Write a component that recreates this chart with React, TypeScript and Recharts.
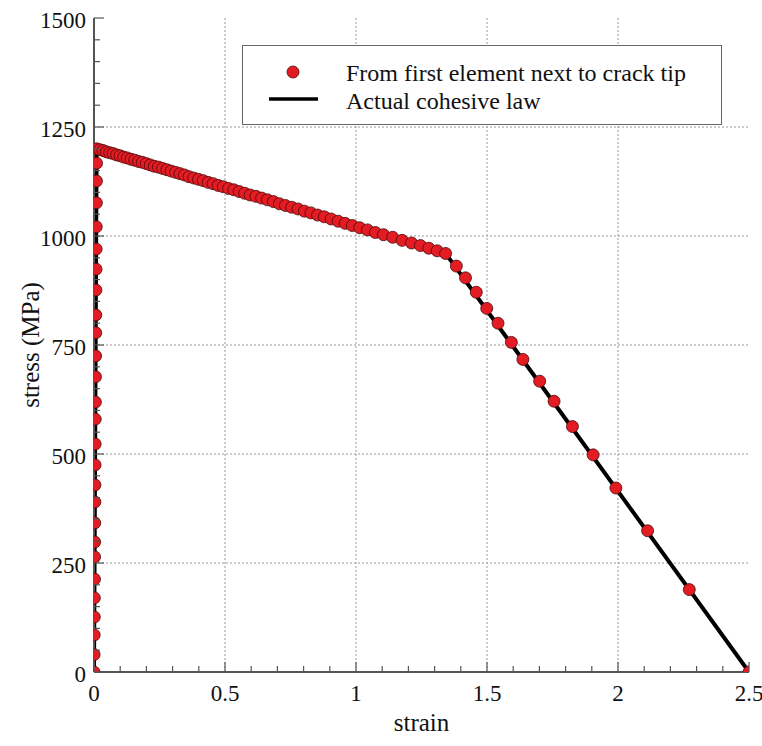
import { ComposedChart, Line, Scatter, XAxis, YAxis, ReferenceLine, Legend, Label } from 'recharts';

// cohesive law (black line)
const lawStrain = [0, 0.01, 1.342, 2.5];
const lawStress = [0, 1200, 960, 0];

// element next to crack tip: loading branch
const loadStrain = [0, 0.0003, 0.0007, 0.0011, 0.0014, 0.0018, 0.0022, 0.0025, 0.0029, 0.0033, 0.0036, 0.004, 0.0044, 0.0048, 0.0052, 0.0056, 0.006, 0.0065, 0.0068, 0.0073, 0.0077, 0.0081, 0.0085, 0.009, 0.0094, 0.0097];
const loadStress = [0, 40, 85, 126, 170, 213, 264, 298, 342, 390, 429, 475, 523, 580, 619, 677, 725, 778, 819, 876, 924, 970, 1021, 1076, 1126, 1167];

// softening branch
const softStrain = [
  0.01, 0.0222, 0.0346, 0.0472, 0.06, 0.073, 0.0862, 0.0996, 0.1132, 0.127,
  0.141, 0.1553, 0.1698, 0.1845, 0.1995, 0.2147, 0.2301, 0.2458, 0.2617, 0.2779,
  0.2944, 0.3111, 0.3281, 0.3453, 0.3628, 0.3806, 0.3987, 0.4171, 0.4358, 0.4548,
  0.4741, 0.4937, 0.5136, 0.5338, 0.5543, 0.5752, 0.5964, 0.6179, 0.6398, 0.662,
  0.6846, 0.7076, 0.7309, 0.7546, 0.7787, 0.8032, 0.8281, 0.8534, 0.8791, 0.9052,
  0.9317, 0.9586, 0.9859, 1.014, 1.044, 1.074, 1.105, 1.14, 1.176, 1.212,
  1.246, 1.278, 1.31, 1.342,
];
const softStress = [
  1200, 1198, 1196, 1193, 1191, 1189, 1186, 1184, 1181, 1179,
  1176, 1174, 1171, 1169, 1166, 1163, 1160, 1158, 1155, 1152,
  1149, 1146, 1143, 1140, 1136, 1133, 1130, 1127, 1123, 1120,
  1116, 1113, 1109, 1106, 1102, 1098, 1094, 1091, 1087, 1083,
  1079, 1074, 1070, 1066, 1062, 1057, 1053, 1048, 1044, 1039,
  1034, 1029, 1024, 1019, 1014, 1008, 1003, 997, 990, 984,
  978, 972, 966, 960,
];

// final drop to zero
const dropStrain = [1.383, 1.418, 1.459, 1.499, 1.542, 1.593, 1.637, 1.701, 1.756, 1.826, 1.905, 1.992, 2.113, 2.272, 2.5];
const dropStress = [931, 904, 871, 834, 800, 756, 717, 667, 621, 563, 498, 422, 324, 189, 0];

const xTicks = [0, 0.1, 0.2, 0.3, 0.4, 0.5, 0.6, 0.7, 0.8, 0.9, 1, 1.1, 1.2, 1.3, 1.4, 1.5, 1.6, 1.7, 1.8, 1.9, 2, 2.1, 2.2, 2.3, 2.4, 2.5];
const yTicks = [0, 50, 100, 150, 200, 250, 300, 350, 400, 450, 500, 550, 600, 650, 700, 750, 800, 850, 900, 950, 1000, 1050, 1100, 1150, 1200, 1250, 1300, 1350, 1400, 1450, 1500];
const xGrid = [0.5, 1, 1.5, 2];
const yGrid = [250, 500, 750, 1000, 1250];

const lawData = lawStrain.map((s, i) => ({ strain: s, stress: lawStress[i] }));
const pointData = [
  ...loadStrain.map((s, i) => ({ strain: s, stress: loadStress[i] })),
  ...softStrain.map((s, i) => ({ strain: s, stress: softStress[i] })),
  ...dropStrain.map((s, i) => ({ strain: s, stress: dropStress[i] })),
];

// keep the page from overflowing the 762x746 window
if (typeof document !== 'undefined') document.body.style.margin = '0';

const TXT = { fontFamily: 'Liberation Serif, Tinos, DejaVu Serif, serif', fill: '#111' };
const AXIS = '#555';
const RED = '#e31b23';

const isMajorX = (v: number) => Math.abs(v * 2 - Math.round(v * 2)) < 1e-6;
const isMajorY = (v: number) => v % 250 === 0;

const BottomTick = (props: any) => {
  const { x, y, payload } = props;
  const major = isMajorX(payload.value);
  return (
    <g>
      <line x1={x} x2={x} y1={y} y2={y - (major ? 10 : 6)} stroke={AXIS} strokeWidth={1.2} />
      {major && (
        <text x={x} y={y + 21} textAnchor="middle" dominantBaseline="central" fontSize={23} style={TXT}>
          {String(payload.value)}
        </text>
      )}
    </g>
  );
};

const TopTick = (props: any) => {
  const { x, y, payload } = props;
  const major = isMajorX(payload.value);
  return <line x1={x} x2={x} y1={y} y2={y + (major ? 10 : 6)} stroke={AXIS} strokeWidth={1.2} />;
};

const LeftTick = (props: any) => {
  const { x, y, payload } = props;
  const major = isMajorY(payload.value);
  return (
    <g>
      <line x1={x} x2={x + (major ? 10 : 6)} y1={y} y2={y} stroke={AXIS} strokeWidth={1.2} />
      {major && (
        <text x={x - 8} y={y + 2} textAnchor="end" dominantBaseline="central" fontSize={23} style={TXT}>
          {String(payload.value)}
        </text>
      )}
    </g>
  );
};

const RightTick = (props: any) => {
  const { x, y, payload } = props;
  const major = isMajorY(payload.value);
  return <line x1={x} x2={x - (major ? 10 : 6)} y1={y} y2={y} stroke={AXIS} strokeWidth={1.2} />;
};

const Dot = (props: any) => (
  <circle cx={props.cx} cy={props.cy} r={6} fill={RED} stroke="#4a0a0a" strokeWidth={0.8} />
);

const LegendBox = () => (
  <div style={{ width: 480, height: 80, boxSizing: 'border-box', border: '1.5px solid #666', background: '#fff' }}>
    <svg width={477} height={77} style={{ display: 'block' }}>
      <circle cx={50} cy={26} r={6} fill={RED} stroke="#4a0a0a" strokeWidth={0.8} />
      <line x1={26} x2={75} y1={53} y2={53} stroke="#000" strokeWidth={3.5} />
      <text x={103} y={27} dominantBaseline="central" fontSize={24} style={TXT}>
        From first element next to crack tip
      </text>
      <text x={103} y={55} dominantBaseline="central" fontSize={24} style={TXT}>
        Actual cohesive law
      </text>
    </svg>
  </div>
);

export default function App() {
  return (
    <div style={{ padding: '8px 0 0 8px', width: 754, height: 738, background: '#fff' }}>
      <ComposedChart width={754} height={738} margin={{ top: 10, right: 13, bottom: 0, left: 0 }}>
        {xGrid.map((v) => (
          <ReferenceLine key={`gx-${v}`} x={v} stroke="#9a9a9a" strokeDasharray="2 2" strokeWidth={1} />
        ))}
        {yGrid.map((v) => (
          <ReferenceLine key={`gy-${v}`} y={v} stroke="#9a9a9a" strokeDasharray="2 2" strokeWidth={1} />
        ))}
        <XAxis
          dataKey="strain"
          type="number"
          domain={[0, 2.5]}
          ticks={xTicks}
          interval={0}
          height={74}
          tickSize={0}
          tickMargin={0}
          tickLine={false}
          tick={<BottomTick />}
          axisLine={{ stroke: AXIS, strokeWidth: 2 }}
          allowDataOverflow
        >
          <Label
            content={(p: any) => {
              const vb = p.viewBox;
              return (
                <text x={vb.x + vb.width / 2} y={vb.y + 50} textAnchor="middle" dominantBaseline="central" fontSize={25} style={TXT}>
                  strain
                </text>
              );
            }}
          />
        </XAxis>
        <XAxis
          xAxisId="top"
          orientation="top"
          type="number"
          domain={[0, 2.5]}
          ticks={xTicks}
          interval={0}
          height={0}
          tickSize={0}
          tickMargin={0}
          tickLine={false}
          tick={<TopTick />}
          axisLine={{ stroke: AXIS, strokeWidth: 2 }}
          allowDataOverflow
        />
        <YAxis
          type="number"
          domain={[0, 1500]}
          ticks={yTicks}
          interval={0}
          width={86}
          tickSize={0}
          tickMargin={0}
          tickLine={false}
          tick={<LeftTick />}
          axisLine={{ stroke: AXIS, strokeWidth: 2 }}
          allowDataOverflow
        >
          <Label
            content={(p: any) => {
              const vb = p.viewBox;
              const cx = vb.x + 22;
              const cy = vb.y + vb.height / 2;
              return (
                <text x={cx} y={cy} transform={`rotate(-90 ${cx} ${cy})`} textAnchor="middle" dominantBaseline="central" fontSize={25} style={TXT}>
                  stress (MPa)
                </text>
              );
            }}
          />
        </YAxis>
        <YAxis
          yAxisId="right"
          orientation="right"
          type="number"
          domain={[0, 1500]}
          ticks={yTicks}
          interval={0}
          width={0}
          tickSize={0}
          tickMargin={0}
          tickLine={false}
          tick={<RightTick />}
          axisLine={{ stroke: AXIS, strokeWidth: 2 }}
          allowDataOverflow
        />
        <Line
          data={lawData}
          dataKey="stress"
          type="linear"
          stroke="#000"
          strokeWidth={4}
          dot={false}
          activeDot={false}
          isAnimationActive={false}
          name="Actual cohesive law"
        />
        <Scatter
          data={pointData}
          dataKey="stress"
          shape={<Dot />}
          isAnimationActive={false}
          name="From first element next to crack tip"
        />
        <Legend
          layout="vertical"
          align="center"
          verticalAlign="middle"
          content={<LegendBox />}
          wrapperStyle={{ position: 'absolute', top: 37, left: 234, width: 480, height: 80 }}
        />
      </ComposedChart>
    </div>
  );
}
